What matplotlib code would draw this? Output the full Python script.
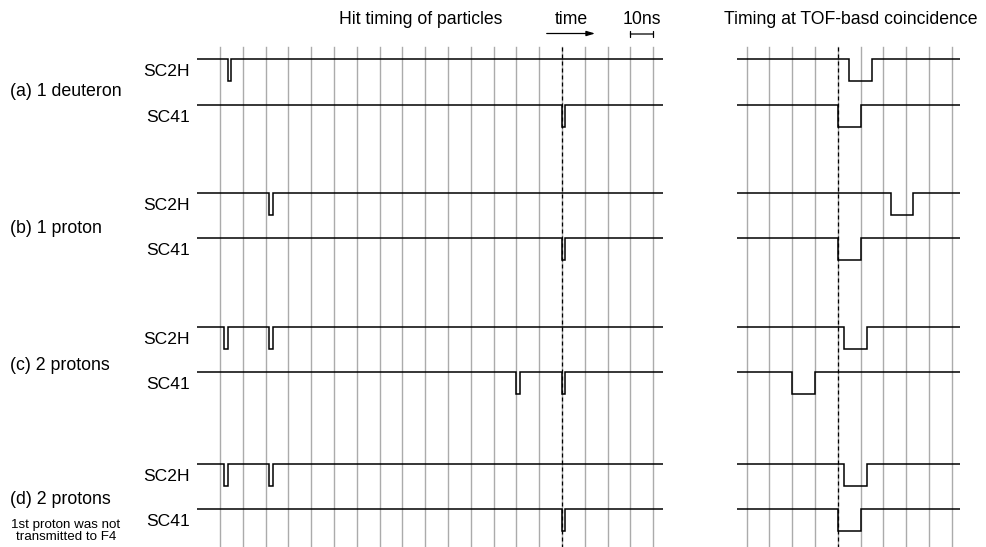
import matplotlib
matplotlib.use("Agg")
import matplotlib.pyplot as plt

plt.rcParams['font.family'] = ['Liberation Sans', 'DejaVu Sans']

# ---- data (times in ns) ----
panel_labels = ["(a) 1 deuteron", "(b) 1 proton", "(c) 2 protons", "(d) 2 protons"]
panel_note = "1st proton was not\ntransmitted to F4"
channels = ["SC2H", "SC41"]

# hit timing of particles (left panel), pulse start times in ns
hit_sc2h = [[3.4], [21.6], [1.9, 21.6], [1.9, 21.6]]
hit_sc41 = [[150.0], [150.0], [130.0, 150.0], [150.0]]
hit_width = 1.5  # ns

# timing at TOF-based coincidence (right panel), relative to SC41 reference (ns)
coin_sc2h = [[5.0], [23.2], [2.8], [2.8]]
coin_sc41 = [[0.0], [0.0], [-20.0], [0.0]]
coin_width = 10.0  # ns

left_grid = list(range(0, 200, 10))
right_grid = list(range(-40, 60, 10))
left_ref = 150.0
right_ref = 0.0
scale_bar = (180.0, 190.0)
time_arrow = (143.3, 164.5)

# ---- layout (pixels) ----
W, H = 987, 547
fig = plt.figure(figsize=(W / 100, H / 100), dpi=100)

px_per_ns = 2.28
row_base = [59.0, 192.7, 326.7, 463.7]
ch_offset = 45.5
depth = 22.0
grid_top, grid_bot = 47.0, 547.0
label_y = [91.7, 228.3, 365.0, 499.0]


def fx(x):
    return x / W


def fy(y):
    return 1 - y / H


def make_axes(left_px, right_px, ref_px, ref_ns):
    ax = fig.add_axes([fx(left_px), 0, (right_px - left_px) / W, 1])
    ax.set_xlim(ref_ns + (left_px - ref_px) / px_per_ns, ref_ns + (right_px - ref_px) / px_per_ns)
    ax.set_ylim(H, 0)
    ax.axis("off")
    return ax


axL = make_axes(197.0, 663.0, 562.0, left_ref)
axR = make_axes(736.7, 960.0, 837.7, right_ref)

lw_sig = 1.1
grid_kw = dict(color="#ababab", lw=1.0, zorder=1)
dash_kw = dict(color="black", lw=0.9, linestyle=(0, (3.2, 2.4)), zorder=3)


def signal(ax, base, pulses, width):
    x0, x1 = ax.get_xlim()
    xs, ys = [x0], [base]
    for t in sorted(pulses):
        xs += [t, t, t + width, t + width]
        ys += [base, base + depth, base + depth, base]
    xs.append(x1)
    ys.append(base)
    ax.plot(xs, ys, color="black", lw=lw_sig, solid_joinstyle="miter", zorder=4)


for ax, grid, ref in ((axL, left_grid, left_ref), (axR, right_grid, right_ref)):
    for g in grid:
        ax.plot([g, g], [grid_top, grid_bot], **grid_kw)
    ax.plot([ref, ref], [grid_top, grid_bot], **dash_kw)

for i in range(4):
    b2 = row_base[i]
    b4 = row_base[i] + ch_offset
    signal(axL, b2, hit_sc2h[i], hit_width)
    signal(axL, b4, hit_sc41[i], hit_width)
    signal(axR, b2, coin_sc2h[i], coin_width)
    signal(axR, b4, coin_sc41[i], coin_width)
    fig.text(fx(189.5), fy(b2 + 12.5), channels[0], ha="right", va="center", fontsize=12.6)
    fig.text(fx(189.5), fy(b4 + 12.5), channels[1], ha="right", va="center", fontsize=12.6)
    fig.text(fx(9.5), fy(label_y[i]), panel_labels[i], ha="left", va="center", fontsize=12.8)

fig.text(fx(66), fy(531), panel_note, ha="center", va="center", fontsize=9.6, linespacing=1.05)

# headers
fig.text(fx(420.5), fy(20), "Hit timing of particles", ha="center", va="center", fontsize=12.7)
fig.text(fx(571.7), fy(19), "time", ha="center", va="center", fontsize=12.7)
fig.text(fx(641.7), fy(19), "10ns", ha="center", va="center", fontsize=12.7)
fig.text(fx(851), fy(19), "Timing at TOF-basd coincidence", ha="center", va="center", fontsize=12.7)

axL.annotate("", xy=(time_arrow[1], 33.5), xytext=(time_arrow[0], 33.5),
             arrowprops=dict(arrowstyle="-|>,head_length=0.5,head_width=0.15", color="black", lw=0.9,
                             shrinkA=0, shrinkB=0), annotation_clip=False)
axL.annotate("", xy=(scale_bar[1], 34), xytext=(scale_bar[0], 34),
             arrowprops=dict(arrowstyle="|-|,widthA=0.22,widthB=0.22", color="black", lw=0.9,
                             shrinkA=0, shrinkB=0), annotation_clip=False)

fig.savefig("out.png", dpi=100)
